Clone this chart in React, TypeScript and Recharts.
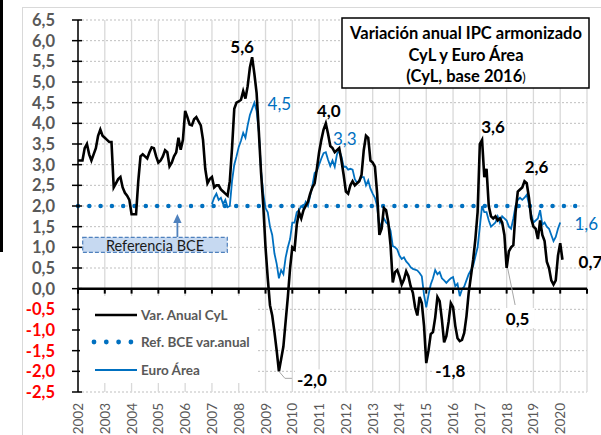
import React from 'react';
import {
  LineChart,
  Line,
  XAxis,
  YAxis,
  CartesianGrid,
  ReferenceLine,
  ReferenceDot,
} from 'recharts';

// ---------- DATA ----------
const CYL_START_YEAR = 2002;
const EURO_START_YEAR = 2007;

// Var. anual IPC armonizado CyL (monthly, Jan..Dec)
const CYL_2002 = [3.1, 3.1, 3.1, 3.4, 3.5, 3.25, 3.1, 3.25, 3.4, 3.7, 3.85, 3.7];
const CYL_2003 = [3.65, 3.6, 3.55, 3.55, 2.45, 2.55, 2.65, 2.7, 2.45, 2.32, 2.25, 2.15];
const CYL_2004 = [1.8, 1.8, 1.8, 2.6, 3.2, 3.25, 3.2, 3.15, 3.3, 3.42, 3.4, 3.2];
const CYL_2005 = [3.05, 3.1, 3.2, 3.35, 3.3, 2.96, 3.05, 3.2, 3.3, 3.65, 3.36, 3.6];
const CYL_2006 = [4.3, 4.15, 3.97, 3.95, 4.1, 4.15, 4.05, 3.95, 3.6, 2.9, 2.55, 2.65];
const CYL_2007 = [2.7, 2.45, 2.5, 2.5, 2.4, 2.35, 2.3, 2.25, 2.6, 3.4, 4.35, 4.5];
const CYL_2008 = [4.53, 4.57, 4.78, 4.6, 4.9, 5.35, 5.6, 5.2, 4.74, 3.8, 2.8, 2.0];
const CYL_2009 = [1.0, 0.25, -0.4, -0.65, -1.05, -1.5, -2.0, -1.7, -1.4, -0.8, -0.2, 0.5];
const CYL_2010 = [1.0, 0.95, 1.55, 1.85, 1.7, 1.9, 2.0, 2.1, 2.3, 2.45, 2.55, 2.9];
const CYL_2011 = [3.3, 3.6, 3.85, 4.0, 3.75, 3.45, 3.4, 3.3, 3.35, 3.4, 3.1, 2.75];
const CYL_2012 = [2.35, 2.3, 2.5, 2.6, 2.5, 2.55, 2.6, 2.75, 3.35, 3.7, 3.65, 3.1];
const CYL_2013 = [3.05, 2.95, 2.3, 1.3, 1.45, 1.95, 1.9, 1.6, 1.05, 0.15, 0.4, 0.45];
const CYL_2014 = [0.3, 0.1, 0.22, 0.42, 0.3, 0.06, -0.1, -0.45, -0.65, -0.2, -0.35, -0.9];
const CYL_2015 = [-1.8, -1.5, -1.1, -1.05, -0.7, -0.2, -0.3, -0.75, -1.3, -1.15, -0.8, -0.35];
const CYL_2016 = [-0.45, -0.9, -1.2, -1.27, -1.24, -1.07, -0.67, -0.1, 0.3, 0.7, 1.2, 1.85];
const CYL_2017 = [3.5, 3.6, 2.7, 2.9, 2.0, 1.75, 1.7, 1.75, 1.65, 1.7, 1.6, 1.3];
const CYL_2018 = [0.5, 0.9, 1.0, 1.05, 1.85, 2.35, 2.4, 2.45, 2.6, 2.55, 2.2, 1.7];
const CYL_2019 = [1.5, 1.45, 1.2, 1.65, 1.3, 1.15, 0.65, 0.5, 0.2, 0.1, 0.2, 0.8];
const CYL_2020 = [1.1, 0.7];

// Euro Área (monthly, from Jan 2007)
const EURO_2007 = [2.05, 2.2, 2.3, 2.15, 2.2, 2.05, 2.15, 1.97, 2.0, 2.6, 3.0, 3.2];
const EURO_2008 = [3.43, 3.58, 3.77, 3.65, 3.95, 4.2, 4.35, 4.5, 4.3, 3.8, 2.85, 2.3];
const EURO_2009 = [1.95, 1.85, 1.5, 1.3, 0.85, 0.6, 0.25, 0.45, 0.35, 0.75, 1.0, 1.2];
const EURO_2010 = [1.6, 1.6, 1.85, 1.9, 2.0, 1.95, 2.1, 2.0, 2.25, 2.5, 2.8, 2.85];
const EURO_2011 = [3.0, 3.15, 3.28, 3.3, 3.12, 2.97, 3.1, 2.95, 3.25, 3.35, 3.2, 2.95];
const EURO_2012 = [2.95, 2.88, 2.9, 2.88, 2.65, 2.56, 2.62, 2.7, 2.7, 2.5, 2.62, 2.42];
const EURO_2013 = [2.3, 2.2, 2.0, 1.45, 1.6, 1.7, 1.6, 1.55, 1.4, 1.03, 1.0, 0.95];
const EURO_2014 = [0.8, 0.72, 0.76, 0.66, 0.6, 0.52, 0.48, 0.46, 0.44, 0.38, 0.3, -0.15];
const EURO_2015 = [-0.45, -0.15, 0.1, 0.25, 0.45, 0.35, 0.4, 0.25, 0.2, 0.14, 0.2, 0.25];
const EURO_2016 = [0.28, 0.06, 0.12, -0.18, -0.02, 0.05, 0.2, 0.35, 0.45, 0.55, 0.78, 1.0];
const EURO_2017 = [1.5, 2.0, 1.85, 1.85, 1.65, 1.5, 1.55, 1.6, 1.75, 1.6, 1.75, 1.7];
const EURO_2018 = [1.65, 1.5, 1.45, 1.7, 2.0, 2.15, 2.2, 2.15, 2.2, 2.27, 2.05, 1.8];
const EURO_2019 = [1.6, 1.65, 1.7, 1.9, 1.55, 1.6, 1.5, 1.45, 1.3, 1.15, 1.25, 1.45];
const EURO_2020 = [1.6];

const BCE_TARGET = 2.0;
const BCE_END = 2020.75;

const YEAR_TICKS = [
  2002, 2003, 2004, 2005, 2006, 2007, 2008, 2009, 2010, 2011,
  2012, 2013, 2014, 2015, 2016, 2017, 2018, 2019, 2020, 2021,
];
const YEAR_LABELS = [
  '2002', '2003', '2004', '2005', '2006', '2007', '2008', '2009', '2010', '2011',
  '2012', '2013', '2014', '2015', '2016', '2017', '2018', '2019', '2020',
];
const Y_TICKS = [-2.5, -2, -1.5, -1, -0.5, 0, 0.5, 1, 1.5, 2, 2.5, 3, 3.5, 4, 4.5, 5, 5.5, 6, 6.5];

const LEGEND_ITEMS = ['Var. Anual CyL', 'Ref. BCE var.anual', 'Euro Área'];
const TITLE_LINES = ['Variación anual IPC armonizado', 'CyL y Euro Área', '(CyL, base 2016'];
const REF_BOX_TEXT = 'Referencia BCE';

// ---------- build table ----------
const CYL_VALUES = [
  ...CYL_2002, ...CYL_2003, ...CYL_2004, ...CYL_2005, ...CYL_2006, ...CYL_2007,
  ...CYL_2008, ...CYL_2009, ...CYL_2010, ...CYL_2011, ...CYL_2012, ...CYL_2013,
  ...CYL_2014, ...CYL_2015, ...CYL_2016, ...CYL_2017, ...CYL_2018, ...CYL_2019, ...CYL_2020,
];
const EURO_VALUES = [
  ...EURO_2007, ...EURO_2008, ...EURO_2009, ...EURO_2010, ...EURO_2011, ...EURO_2012,
  ...EURO_2013, ...EURO_2014, ...EURO_2015, ...EURO_2016, ...EURO_2017, ...EURO_2018,
  ...EURO_2019, ...EURO_2020,
];
const EURO_OFFSET = (EURO_START_YEAR - CYL_START_YEAR) * 12;

const data = CYL_VALUES.map((v, i) => {
  const j = i - EURO_OFFSET;
  return {
    t: CYL_START_YEAR + i / 12,
    cyl: v,
    euro: j >= 0 && j < EURO_VALUES.length ? EURO_VALUES[j] : null,
  };
});

const fmt = (v: number) => v.toFixed(1).replace('.', ',').replace('-0,0', '0,0');

// annotations: which series point, and styling offsets
type Ann = {
  series: 'cyl' | 'euro';
  year: number;
  month: number;
  dx: number;
  dy: number;
  bold: boolean;
  bg?: boolean;
  leader?: number[][];
};
const ANNOTATIONS: Ann[] = [
  { series: 'cyl', year: 2008, month: 6, dx: -10, dy: -11, bold: true },
  { series: 'euro', year: 2008, month: 7, dx: 25, dy: 1, bold: false },
  { series: 'cyl', year: 2011, month: 3, dx: 3, dy: -13, bold: true },
  { series: 'euro', year: 2011, month: 3, dx: 19, dy: -14, bold: false },
  { series: 'cyl', year: 2017, month: 1, dx: 11, dy: -13, bold: true },
  { series: 'cyl', year: 2018, month: 8, dx: 12, dy: -15, bold: true },
  { series: 'euro', year: 2020, month: 0, dx: 26, dy: 1, bold: false },
  { series: 'cyl', year: 2020, month: 1, dx: 28, dy: 2, bold: true },
  { series: 'cyl', year: 2018, month: 0, dx: 11, dy: 50, bold: true, bg: true, leader: [[1, 0], [8.5, 37]] },
  { series: 'cyl', year: 2015, month: 0, dx: 24, dy: 7, bold: true, bg: true },
  { series: 'cyl', year: 2009, month: 6, dx: 33, dy: 8, bold: true, bg: true, leader: [[0, 0], [6, 7], [13, 7]] },
];

const getVal = (a: Ann) => {
  if (a.series === 'cyl') return CYL_VALUES[(a.year - CYL_START_YEAR) * 12 + a.month];
  return EURO_VALUES[(a.year - EURO_START_YEAR) * 12 + a.month];
};

const FONT = "Lato, 'Open Sans', sans-serif";
const BLUE = '#0070C0';
const GRAY_TXT = '#595959';

const YTick = (props: any) => {
  const { x, y, payload } = props;
  const v = payload.value as number;
  return (
    <g>
      <line x1={x - 6} x2={x + 4} y1={y} y2={y} stroke="#000" strokeWidth={1.5} />
      <text
        x={x - 23}
        y={y}
        textAnchor="end"
        dominantBaseline="central"
        fontFamily={FONT}
        fontWeight={700}
        fontSize={16.5}
        fill={v < 0 ? '#FF0000' : GRAY_TXT}
      >
        {fmt(v)}
      </text>
    </g>
  );
};

const XTick = (props: any) => {
  const { x, y, payload } = props;
  const idx = YEAR_TICKS.indexOf(payload.value);
  const label = YEAR_LABELS[idx];
  if (!label) return <g />;
  const ty = y + 11;
  return (
    <text
      x={x}
      y={ty}
      transform={`rotate(-90, ${x}, ${ty})`}
      textAnchor="end"
      dominantBaseline="central"
      fontFamily={FONT}
      fontSize={13.5}
      fill={GRAY_TXT}
    >
      {label}
    </text>
  );
};

const makeLabel = (a: Ann, text: string) => (props: any) => {
  const vb = props.viewBox || {};
  const px = (vb.x || 0) + (vb.width || 0) / 2;
  const py = (vb.y || 0) + (vb.height || 0) / 2;
  const cx = px + a.dx;
  const cy = py + a.dy;
  const color = a.series === 'euro' ? BLUE : '#000';
  return (
    <g>
      {a.leader && (
        <polyline
          points={a.leader.map((p) => `${px + p[0]},${py + p[1]}`).join(' ')}
          fill="none"
          stroke="#a6a6a6"
          strokeWidth={1}
        />
      )}
      {a.bg && <rect x={cx - 17} y={cy - 10} width={34} height={20} fill="#fff" />}
      <text
        x={cx}
        y={cy}
        textAnchor="middle"
        dominantBaseline="central"
        fontFamily={FONT}
        fontWeight={a.bold ? 700 : 400}
        fontSize={17}
        fill={color}
      >
        {text}
      </text>
    </g>
  );
};

export default function App() {
  return (
    <div
      style={{
        position: 'absolute',
        left: 0,
        top: 0,
        width: 601,
        height: 435,
        background: '#fff',
        overflow: 'hidden',
        fontFamily: FONT,
      }}
    >
      {/* frame decorations */}
      <div style={{ position: 'absolute', left: 0, top: 0, width: 3, height: 252, background: '#000' }} />
      <div style={{ position: 'absolute', left: 22, top: 7, width: 1, height: 428, background: '#d9d9d9' }} />
      <div style={{ position: 'absolute', left: 22, top: 7, width: 579, height: 1, background: '#d9d9d9' }} />

      <div style={{ position: 'absolute', left: 0, top: 0 }}>
        <LineChart
          width={601}
          height={435}
          data={data}
          margin={{ top: 20, right: 14, bottom: 0, left: 0 }}
        >
          <CartesianGrid vertical={false} stroke="#bfbfbf" strokeDasharray="2 2" />
          <CartesianGrid horizontal={false} stroke="#d9d9d9" strokeWidth={1.3} />
          <XAxis
            dataKey="t"
            type="number"
            domain={[2002, 2021]}
            ticks={YEAR_TICKS}
            interval={0}
            height={43}
            axisLine={false}
            tickLine={false}
            tickSize={0}
            tickMargin={0}
            tick={XTick}
            allowDataOverflow
          />
          <YAxis
            type="number"
            domain={[-2.5, 6.5]}
            ticks={Y_TICKS}
            interval={0}
            width={78}
            axisLine={{ stroke: '#000', strokeWidth: 1.5 }}
            tickLine={false}
            tickSize={0}
            tickMargin={0}
            tick={YTick}
            allowDataOverflow
          />
          <ReferenceLine
            segment={[
              { x: 2002, y: BCE_TARGET },
              { x: BCE_END, y: BCE_TARGET },
            ]}
            stroke={BLUE}
            strokeWidth={4.5}
            strokeDasharray="0 11.3"
            strokeLinecap="round"
          />
          <Line
            dataKey="euro"
            type="linear"
            stroke={BLUE}
            strokeWidth={1.8}
            dot={false}
            activeDot={false}
            isAnimationActive={false}
          />
          <Line
            dataKey="cyl"
            type="linear"
            stroke="#000"
            strokeWidth={2.6}
            dot={false}
            activeDot={false}
            isAnimationActive={false}
          />
          <ReferenceLine y={0} stroke="#000" strokeWidth={2.5} />
          {YEAR_TICKS.map((yr) => (
            <ReferenceLine
              key={'tk' + yr}
              segment={[
                { x: yr, y: 0 },
                { x: yr, y: -0.12 },
              ]}
              stroke="#000"
              strokeWidth={2}
            />
          ))}
          {ANNOTATIONS.map((a, i) => {
            const v = getVal(a);
            return (
              <ReferenceDot
                key={'an' + i}
                x={a.year + a.month / 12}
                y={v}
                r={0}
                fill="none"
                stroke="none"
                label={makeLabel(a, fmt(v))}
              />
            );
          })}
        </LineChart>
      </div>

      {/* overlays: legend, title, reference box */}
      <svg
        width={601}
        height={435}
        style={{ position: 'absolute', left: 0, top: 0, pointerEvents: 'none' }}
      >
        {/* legend */}
        <rect x={80} y={296} width={177} height={87} fill="#fff" />
        <line x1={95} x2={137} y1={315} y2={315} stroke="#000" strokeWidth={2.6} />
        {[94, 106.3, 118.6, 130.9].map((cx) => (
          <circle key={cx} cx={cx} cy={342} r={2.4} fill={BLUE} />
        ))}
        <line x1={95} x2={137} y1={370} y2={370} stroke={BLUE} strokeWidth={1.8} />
        {LEGEND_ITEMS.map((t, i) => (
          <text
            key={t}
            x={141}
            y={[315, 342, 370][i]}
            dominantBaseline="central"
            fontFamily={FONT}
            fontWeight={700}
            fontSize={13.5}
            fill={GRAY_TXT}
          >
            {t}
          </text>
        ))}

        {/* reference box + arrow */}
        <rect
          x={82.7}
          y={237.3}
          width={144.6}
          height={15}
          fill="#c6d9f1"
          stroke="#4f81bd"
          strokeWidth={1.2}
          strokeDasharray="4 2"
        />
        <text
          x={155}
          y={245}
          textAnchor="middle"
          dominantBaseline="central"
          fontFamily={FONT}
          fontSize={14.5}
          fill="#1a1a1a"
        >
          {REF_BOX_TEXT}
        </text>
        <line x1={177.4} x2={177.4} y1={237} y2={222} stroke="#4f81bd" strokeWidth={1.8} />
        <polygon points="173.2,223 181.6,223 177.4,214" fill="#4f81bd" />

        {/* title */}
        <rect x={342} y={18} width={247} height={70} fill="#fff" stroke="#000" strokeWidth={1.5} />
        {TITLE_LINES.map((t, i) => (
          <text
            key={t}
            x={466}
            y={[39, 61, 82][i]}
            textAnchor="middle"
            fontFamily={FONT}
            fontWeight={700}
            fontSize={16.5}
            fill="#000"
          >
            {t}
            {i === 2 && (
              <tspan fontWeight={400} fontSize={13}>
                )
              </tspan>
            )}
          </text>
        ))}
      </svg>
    </div>
  );
}
